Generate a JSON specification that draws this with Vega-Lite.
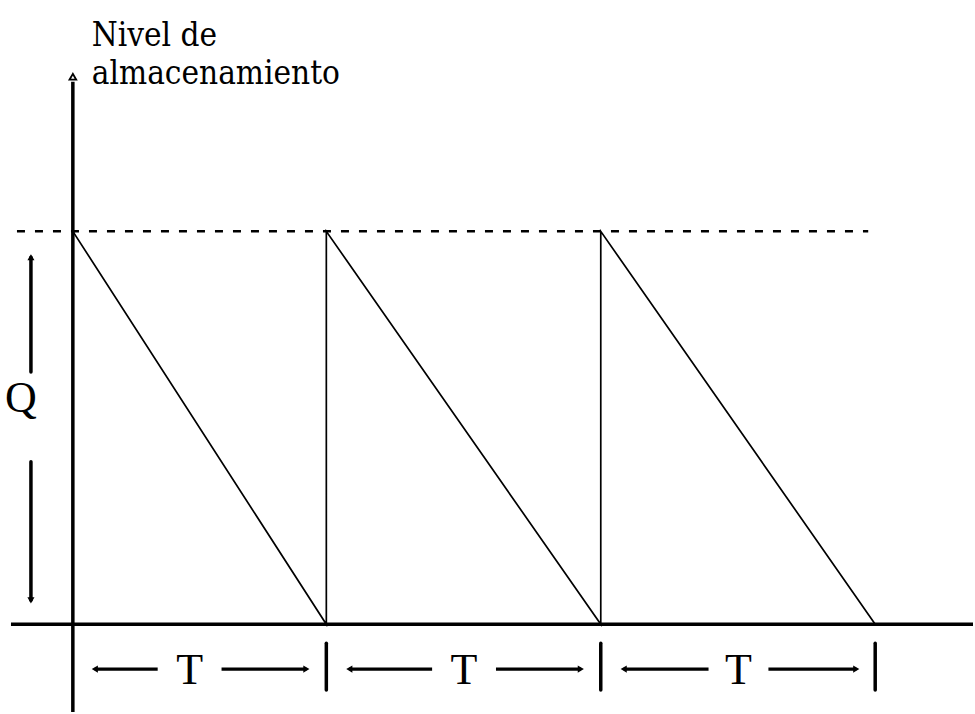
{
  "$schema": "https://vega.github.io/schema/vega-lite/v6.json",
  "width": 975,
  "height": 714,
  "padding": 0,
  "autosize": {"type": "fit", "contains": "padding"},
  "background": "white",
  "config": {"view": {"stroke": null}},
  "datasets": {
    "saw": [
      {"t": 0, "level": 394, "order": 1},
      {"t": 254, "level": 0, "order": 2},
      {"t": 254, "level": 394, "order": 3},
      {"t": 529, "level": 0, "order": 4},
      {"t": 529, "level": 394, "order": 5},
      {"t": 804, "level": 0, "order": 6}
    ],
    "dashed": [{"t": -56, "t2": 797, "level": 394}],
    "yaxis": [{"t": 0, "level": 544, "level2": -88}],
    "xaxis": [{"t": -62, "t2": 902, "level": 0}],
    "qseg": [
      {"t": -42, "level": 368, "level2": 253},
      {"t": -42, "level": 163, "level2": 24}
    ],
    "tarrows": [
      {"t": 22, "t2": 85, "level": -45},
      {"t": 149, "t2": 234, "level": -45},
      {"t": 277, "t2": 360, "level": -45},
      {"t": 424, "t2": 509, "level": -45},
      {"t": 552, "t2": 637, "level": -45},
      {"t": 697, "t2": 785, "level": -45}
    ],
    "seps": [
      {"t": 254, "level": -19, "level2": -66},
      {"t": 529, "level": -19, "level2": -66},
      {"t": 804, "level": -19, "level2": -66}
    ],
    "heads": [
      {"t": 22, "level": -45, "dir": "triangle-left"},
      {"t": 234, "level": -45, "dir": "triangle-right"},
      {"t": 277, "level": -45, "dir": "triangle-left"},
      {"t": 509, "level": -45, "dir": "triangle-right"},
      {"t": 552, "level": -45, "dir": "triangle-left"},
      {"t": 785, "level": -45, "dir": "triangle-right"},
      {"t": -42, "level": 368, "dir": "triangle-up"},
      {"t": -42, "level": 24, "dir": "triangle-down"}
    ],
    "tlabels": [
      {"t": 117, "level": -47, "label": "T"},
      {"t": 392, "level": -47, "label": "T"},
      {"t": 667, "level": -47, "label": "T"}
    ],
    "qlabel": [{"t": -52, "level": 226, "label": "Q"}],
    "title": [
      {"t": 19, "level": 580, "label": "Nivel de\nalmacenamiento"}
    ],
    "arrowtop": [{"t": 0, "level": 549}]
  },
  "encoding": {
    "x": {"field": "t", "type": "quantitative", "scale": {"domain": [-73, 902], "nice": false, "zero": false}, "axis": null},
    "y": {"field": "level", "type": "quantitative", "scale": {"domain": [-88, 626], "nice": false, "zero": false}, "axis": null}
  },
  "layer": [
    {"data": {"name": "dashed"}, "mark": {"type": "rule", "color": "black", "strokeWidth": 2.5, "strokeDash": [8, 10]}, "encoding": {"x2": {"field": "t2"}}},
    {"data": {"name": "saw"}, "mark": {"type": "line", "color": "black", "strokeWidth": 1.7}, "encoding": {"order": {"field": "order", "type": "quantitative"}}},
    {"data": {"name": "yaxis"}, "mark": {"type": "rule", "color": "black", "strokeWidth": 3.5}, "encoding": {"y2": {"field": "level2"}}},
    {"data": {"name": "xaxis"}, "mark": {"type": "rule", "color": "black", "strokeWidth": 3.5}, "encoding": {"x2": {"field": "t2"}}},
    {"data": {"name": "qseg"}, "mark": {"type": "rule", "color": "black", "strokeWidth": 3.5, "strokeCap": "round"}, "encoding": {"y2": {"field": "level2"}}},
    {"data": {"name": "tarrows"}, "mark": {"type": "rule", "color": "black", "strokeWidth": 3.2}, "encoding": {"x2": {"field": "t2"}}},
    {"data": {"name": "seps"}, "mark": {"type": "rule", "color": "black", "strokeWidth": 3.5, "strokeCap": "round"}, "encoding": {"y2": {"field": "level2"}}},
    {"data": {"name": "heads"}, "mark": {"type": "point", "filled": true, "color": "black", "size": 50, "opacity": 1}, "encoding": {"shape": {"field": "dir", "type": "nominal", "scale": null, "legend": null}}},
    {"data": {"name": "arrowtop"}, "mark": {"type": "point", "shape": "triangle-up", "filled": true, "fill": "white", "stroke": "black", "strokeWidth": 1.8, "size": 45, "opacity": 1}},
    {"data": {"name": "tlabels"}, "mark": {"type": "text", "font": "Liberation Serif", "fontSize": 44, "align": "center", "baseline": "middle", "color": "black"}, "encoding": {"text": {"field": "label"}}},
    {"data": {"name": "qlabel"}, "mark": {"type": "text", "font": "Liberation Serif", "fontSize": 44, "align": "center", "baseline": "middle", "color": "black"}, "encoding": {"text": {"field": "label"}}},
    {"data": {"name": "title"}, "mark": {"type": "text", "font": "DejaVu Serif Condensed, Liberation Sans Narrow, Liberation Serif", "fontSize": 33, "align": "left", "baseline": "alphabetic", "lineBreak": "\n", "lineHeight": 38, "color": "black"}, "encoding": {"text": {"field": "label"}}}
  ]
}
